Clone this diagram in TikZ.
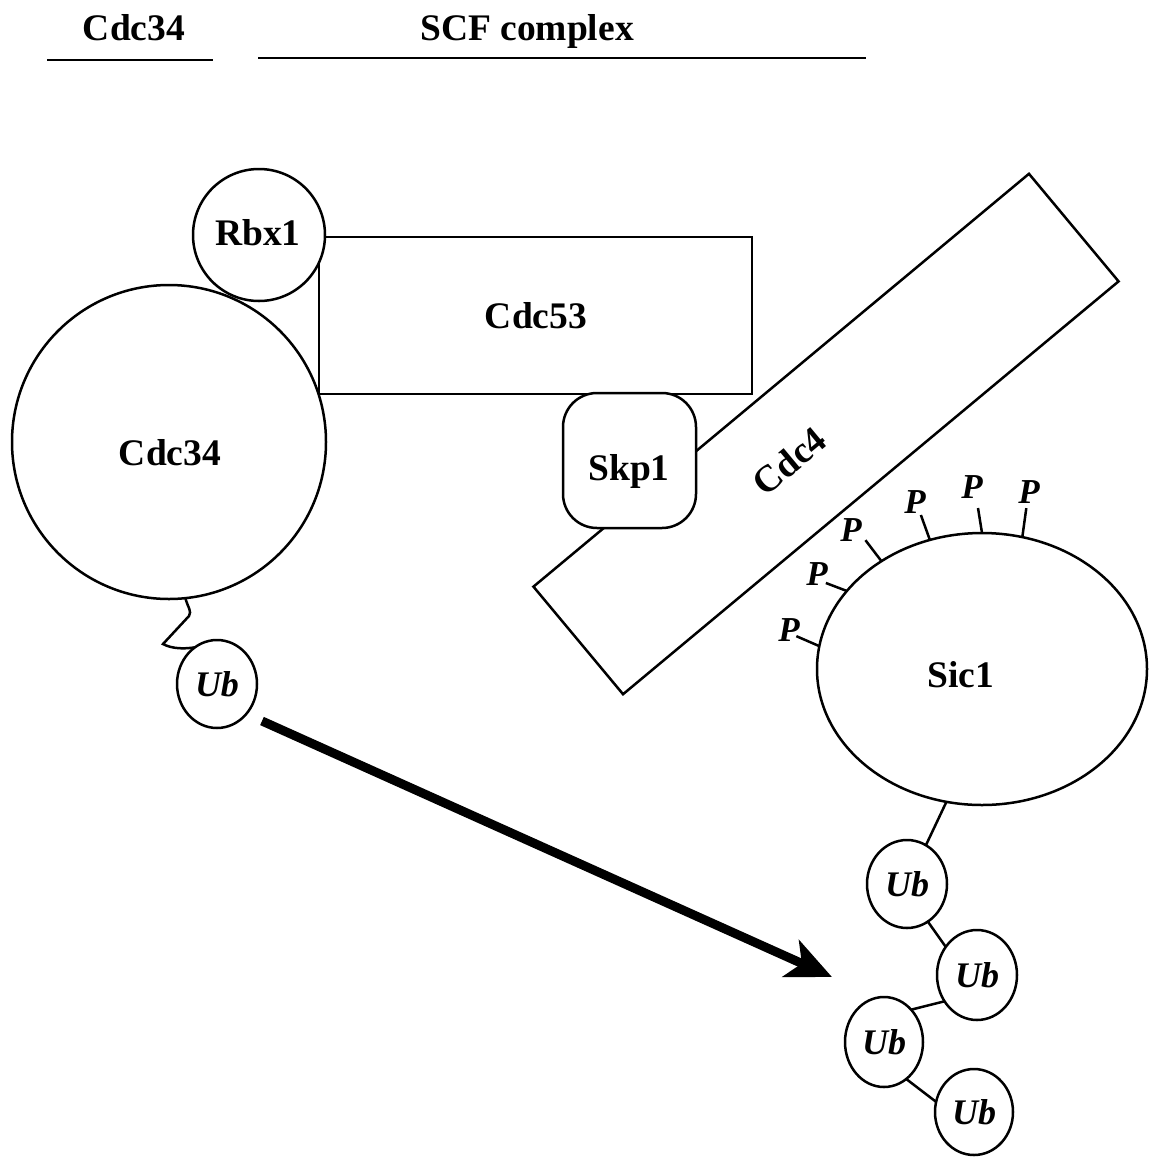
\documentclass[tikz,border=0pt]{standalone}
\usepackage{fontspec}
\setmainfont{Liberation Serif}
\usetikzlibrary{arrows.meta,shapes.geometric}
\begin{document}
\begin{tikzpicture}[x=1pt,y=-1pt,
  outline/.style={draw=black, line width=2.5pt, fill=white, inner sep=0pt, outer sep=0pt},
  roundnode/.style={outline, circle},
  oval/.style={outline, ellipse},
  ubnode/.style={oval, font=\bfseries\itshape\fontsize{36}{40}\selectfont},
  lbl/.style={font=\bfseries\fontsize{37.5}{40}\selectfont, inner sep=0pt, anchor=base},
  plbl/.style={font=\bfseries\itshape\fontsize{35}{40}\selectfont, inner sep=0pt},
  link/.style={line width=2.5pt},
  rule/.style={line width=2.8pt},
]
\useasboundingbox (0,0) rectangle (1149,1157);

% column headings
\node[lbl] (hcdc34) at (134,40) {Cdc34};
\node[lbl] (hscf) at (527,40) {SCF complex};
\draw[rule] (47,60) -- (213,60);
\draw[rule] (258,58) -- (866,58);

% SCF complex
\node[outline, rectangle, minimum width=433pt, minimum height=157pt] (cdc53) at (535.5,315.5) {};
\node[outline, rectangle, rotate=39.8, minimum width=645pt, minimum height=140pt] (cdc4) at (826,434) {};
\node[outline, rectangle, rounded corners=34pt, minimum width=133pt, minimum height=135pt] (skp1) at (629.5,460.5) {};
\node[roundnode, minimum size=314pt] (cdc34) at (169,442) {};
\node[roundnode, minimum size=132pt] (rbx1) at (259,235) {};

\node[lbl] (tcdc53) at (536,328) {Cdc53};
\node[lbl] (tskp1) at (629,480) {Skp1};
\node[lbl] (tcdc34) at (170,465) {Cdc34};
\node[lbl] (trbx1) at (258,245) {Rbx1};
\node[lbl, anchor=center, rotate=39.8] (tcdc4) at (789,461) {Cdc4};

% substrate with phosphorylated sites
\node[oval, minimum width=330pt, minimum height=272pt] (sic1) at (982,669) {};
\node[lbl] (tsic1) at (961,687) {Sic1};

\draw[link] (sic1.172) -- ++(-23,-10);
\draw[link] (sic1.150) -- ++(-21,-8);
\draw[link] (sic1.133) -- ++(-16,-21);
\draw[link] (sic1.112) -- ++(-9,-25);
\draw[link] (sic1.90) -- ++(-4,-25);
\draw[link] (sic1.73) -- ++(4,-29);
\node[plbl] (p1) at (789,630) {P};
\node[plbl] (p2) at (817,574) {P};
\node[plbl] (p3) at (851,530) {P};
\node[plbl] (p4) at (915,502) {P};
\node[plbl] (p5) at (972,487) {P};
\node[plbl] (p6) at (1029,492) {P};

% ubiquitin on Cdc34
\node[ubnode, minimum width=80pt, minimum height=88pt] (ub0) at (217,684) {Ub};
\draw[link] (cdc34.-84) .. controls (188,608) and (192,611) .. (189,616)
  -- (163,644) .. controls (172,649) and (185,649) .. (ub0.121);

% polyubiquitin chain on Sic1
\node[ubnode, minimum width=80pt, minimum height=88pt] (ub1) at (907,884) {Ub};
\node[ubnode, minimum width=80pt, minimum height=90pt] (ub2) at (977,975) {Ub};
\node[ubnode, minimum width=78pt, minimum height=90pt] (ub3) at (884,1042) {Ub};
\node[ubnode, minimum width=78pt, minimum height=86pt] (ub4) at (974,1112) {Ub};
\draw[link] (sic1.-105) -- (ub1.64);
\draw[link] (ub1.-61) -- (ub2.138);
\draw[link] (ub2.219) -- (ub3.50);
\draw[link] (ub3.-59) -- (ub4.165);

% transfer arrow
\coordinate (arrtail) at (262,721);
\coordinate (arrtip) at (832,977);
\draw[line width=9pt, -{Stealth[length=45pt,width=40pt,inset=12pt]}] (arrtail) -- (arrtip);
\end{tikzpicture}
\end{document}
